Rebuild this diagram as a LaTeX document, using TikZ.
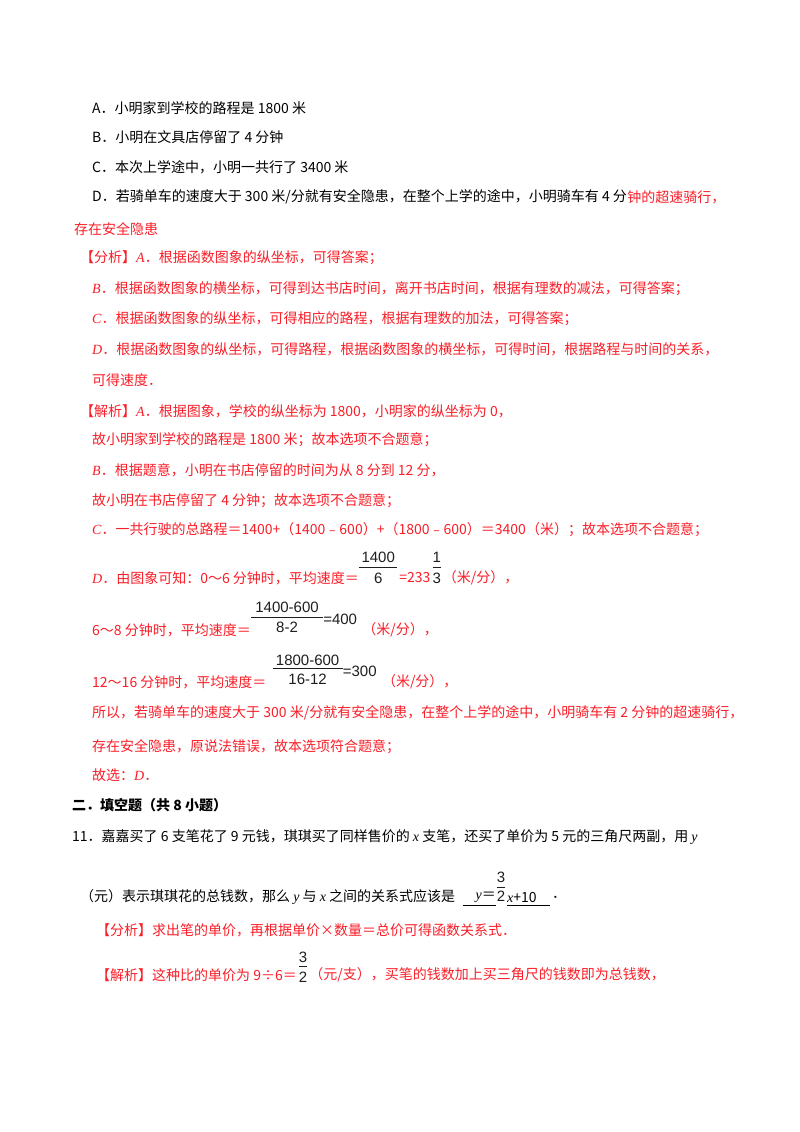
\documentclass[tikz,border=0pt]{standalone}
\usepackage{fontspec}
\setmainfont{Noto Sans CJK SC}
\newfontfamily\tm{Liberation Serif}
\newfontfamily\frf{Liberation Sans}
\usetikzlibrary{calc}
\definecolor{rd}{RGB}{250,30,40}
\definecolor{fk}{RGB}{30,30,30}
\newcommand\ii[1]{{\tm\itshape #1}}
\begin{document}
\begin{tikzpicture}[x=1pt,y=1pt,
  txt/.style={anchor=west,inner sep=0pt,font=\fontsize{14pt}{16pt}\selectfont,text=black},
  rtxt/.style={txt,text=rd},
  fr/.style={inner sep=0pt,font=\frf\fontsize{15pt}{17pt}\selectfont,text=fk},
  bar/.style={draw=fk,line width=0.8pt}]
\useasboundingbox (0,0) rectangle (800,-1132);
\fill[white] (0,0) rectangle (800,-1132);
\node[txt] (a) at (92,-108) {A．小明家到学校的路程是 1800 米};
\node[txt] (b) at (92,-137) {B．小明在文具店停留了 4 分钟};
\node[txt] (c) at (92,-167) {C．本次上学途中，小明一共行了 3400 米};
\node[txt] (d) at (92,-197) {D．若骑单车的速度大于 300 米/分就有安全隐患，在整个上学的途中，小明骑车有 4 分};
\node[rtxt] (d2) at (d.east) {钟的超速骑行，};
\node[rtxt] (e) at (74,-229) {存在安全隐患};
\node[rtxt] (f1) at (80,-258) {【分析】\ii{A}．根据函数图象的纵坐标，可得答案；};
\node[rtxt] (f2) at (92,-289) {\ii{B}．根据函数图象的横坐标，可得到达书店时间，离开书店时间，根据有理数的减法，可得答案；};
\node[rtxt] (f3) at (92,-319) {\ii{C}．根据函数图象的纵坐标，可得相应的路程，根据有理数的加法，可得答案；};
\node[rtxt] (f4) at (92,-349) {\ii{D}．根据函数图象的纵坐标，可得路程，根据函数图象的横坐标，可得时间，根据路程与时间的关系，};
\node[rtxt] (f5) at (92,-380) {可得速度．};
\node[rtxt] (j1) at (80,-411) {【解析】\ii{A}．根据图象，学校的纵坐标为 1800，小明家的纵坐标为 0，};
\node[rtxt] (j2) at (92,-440) {故小明家到学校的路程是 1800 米；故本选项不合题意；};
\node[rtxt] (j3) at (92,-470) {\ii{B}．根据题意，小明在书店停留的时间为从 8 分到 12 分，};
\node[rtxt] (j4) at (92,-501) {故小明在书店停留了 4 分钟；故本选项不合题意；};
\node[rtxt] (j5) at (92,-530) {\ii{C}．一共行驶的总路程＝1400+（1400﹣600）+（1800﹣600）＝3400（米）；故本选项不合题意；};
% D line
\node[rtxt] (k1) at (92,-578) {\ii{D}．由图象可知：0～6 分钟时，平均速度＝};
\node[fr] (k1n) at ($(k1.east)+(19,21)$) {1400};
\node[fr] (k1d) at ($(k1.east)+(19,0)$) {6};
\draw[bar] ($(k1.east)+(0,11)$) -- ++(38,0);
\node[rtxt] (k1e) at ($(k1.east)+(40,0)$) {=233};
\node[fr] (k1n2) at ($(k1e.east)+(6,21)$) {1};
\node[fr] (k1d2) at ($(k1e.east)+(6,0)$) {3};
\draw[bar] ($(k1e.east)+(2,11)$) -- ++(8,0);
\node[rtxt] (k1u) at ($(k1e.east)+(12,0)$) {（米/分），};
% 6~8
\node[rtxt] (k2) at (92,-630) {6～8 分钟时，平均速度＝};
\node[fr] (k2n) at ($(k2.east)+(36,23)$) {1400-600};
\node[fr] (k2d) at ($(k2.east)+(36,3)$) {8-2};
\draw[bar] ($(k2.east)+(0,13)$) -- ++(72,0);
\node[fr,anchor=west] (k2e) at ($(k2.east)+(72,11)$) {=400};
\node[rtxt] (k2u) at ($(k2e.east)+(5,-11)$) {（米/分），};
% 12~16
\node[rtxt] (k3) at (92,-682) {12～16 分钟时，平均速度＝};
\node[fr] (k3n) at ($(k3.east)+(41,22)$) {1800-600};
\node[fr] (k3d) at ($(k3.east)+(41,3)$) {16-12};
\draw[bar] ($(k3.east)+(6,14)$) -- ++(70,0);
\node[fr,anchor=west] (k3e) at ($(k3.east)+(76,11)$) {=300};
\node[rtxt] (k3u) at ($(k3e.east)+(5,-11)$) {（米/分），};
\node[rtxt] (l1) at (92,-713) {所以，若骑单车的速度大于 300 米/分就有安全隐患，在整个上学的途中，小明骑车有 2 分钟的超速骑行，};
\node[rtxt] (l2) at (92,-747) {存在安全隐患，原说法错误，故本选项符合题意；};
\node[rtxt] (l3) at (92,-775) {故选：\ii{D}．};
\node[txt,font=\fontsize{14pt}{16pt}\selectfont\bfseries] (h) at (72,-805) {二．填空题（共 8 小题）};
\node[txt] (q1) at (72,-837) {11．嘉嘉买了 6 支笔花了 9 元钱，琪琪买了同样售价的 \ii{x} 支笔，还买了单价为 5 元的三角尺两副，用 \ii{y}};
\node[txt] (q2) at (80,-897) {（元）表示琪琪花的总钱数，那么 \ii{y} 与 \ii{x} 之间的关系式应该是};
\node[txt] (q3) at ($(q2.east)+(20,0)$) {\ii{y}＝};
\draw[line width=0.6pt] ($(q2.east)+(8,-8)$) -- ($(q3.east)+(0,-8)$);
\node[fr] (q3n) at ($(q3.east)+(5,20)$) {3};
\node[fr] (q3d) at ($(q3.east)+(5,1)$) {2};
\draw[bar] ($(q3.east)+(1,10)$) -- ++(8,0);
\node[txt] (q4) at ($(q3.east)+(11,0)$) {\ii{x}+10};
\draw[line width=0.6pt] (q4.west|-0,-905) -- ($(q4.east)+(13,-8)$);
\node[txt] (q5) at ($(q4.east)+(15,0)$) {．};
\node[rtxt] (m1) at (96,-930) {【分析】求出笔的单价，再根据单价×数量＝总价可得函数关系式．};
\node[rtxt] (m2) at (96,-975) {【解析】这种比的单价为 9÷6＝};
\node[fr] (m2n) at ($(m2.east)+(6,18)$) {3};
\node[fr] (m2d) at ($(m2.east)+(6,-2)$) {2};
\draw[bar] ($(m2.east)+(2,9)$) -- ++(8,0);
\node[rtxt] (m3) at ($(m2.east)+(12,0)$) {（元/支），买笔的钱数加上买三角尺的钱数即为总钱数，};
\end{tikzpicture}
\end{document}
